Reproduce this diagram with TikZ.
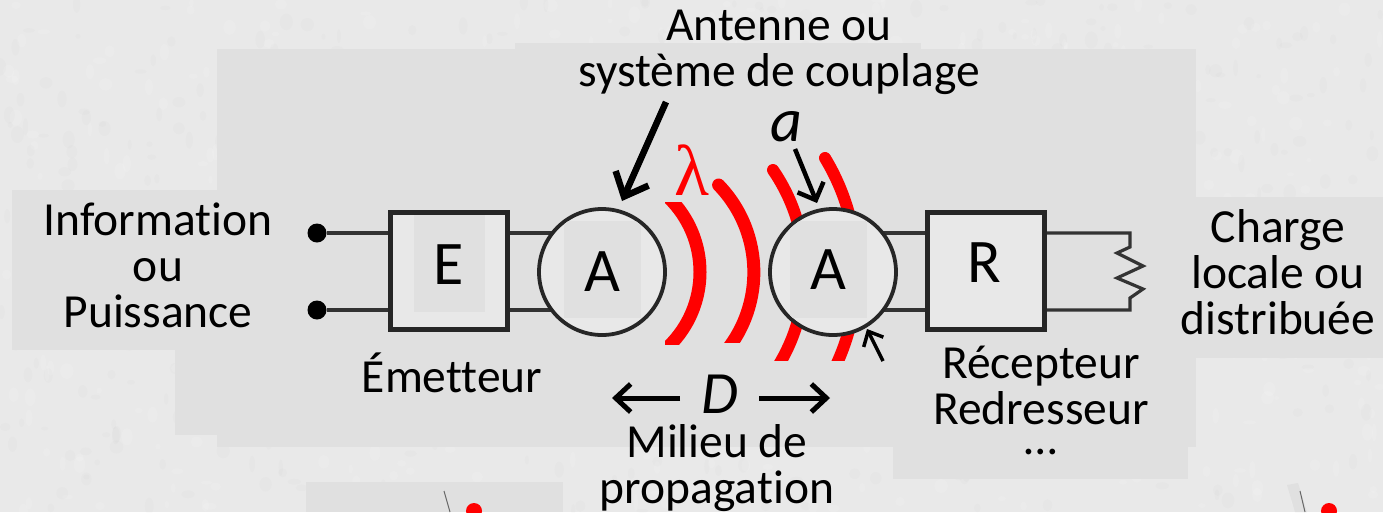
\documentclass[tikz,border=0pt]{standalone}
\usepackage{fontspec}
\setmainfont{Carlito}[Ligatures=NoCommon]
\newfontfamily\lamfont{Liberation Serif}
\usetikzlibrary{arrows.meta}
\definecolor{pagebg}{HTML}{E9E9E9}
\definecolor{patchbg}{HTML}{E0E0E0}
\definecolor{innerbg}{HTML}{E8E8E8}
\definecolor{wirec}{HTML}{333333}
\pgfdeclarelayer{back}
\pgfsetlayers{back,main}
\tikzset{
  patch/.style={fill=patchbg,draw=none},
  lab/.style={font=\fontsize{47.5}{46}\selectfont,align=center,text=black,inner sep=0pt},
  letter/.style={font=\fontsize{62}{62}\selectfont,text=black,inner sep=0pt},
  wire/.style={draw=wirec,line width=3.6pt},
  blockbox/.style={draw=black!85,line width=4.5pt,fill=innerbg,minimum width=117pt,minimum height=117pt,inner sep=0pt},
  antcircle/.style={circle,draw=black!85,line width=3.8pt,fill=innerbg,minimum size=126pt,inner sep=0pt},
  term/.style={circle,fill=black,minimum size=19pt,inner sep=0pt},
  wave/.style={draw=red,line width=13pt},
  bigarrow/.style={draw=black,line width=6.5pt,-{Straight Barb[length=20pt,width=36pt,line width=6.5pt]}},
  smallarrow/.style={draw=black,line width=4.5pt,-{Straight Barb[length=14pt,width=28pt,line width=4.5pt]}},
  tinyarrow/.style={draw=black,line width=3.5pt,-{Straight Barb[length=12pt,width=22pt,line width=3.5pt]}},
  darrow/.style={draw=black,line width=5pt,-{Straight Barb[length=15pt,width=28pt,line width=5pt]}},
}
\begin{document}
\begin{tikzpicture}[x=1pt,y=-1pt]
\useasboundingbox (0,0) rectangle (1383,512);
\begin{pgfonlayer}{back}
\fill[pagebg] (0,0) rectangle (1383,512);
% paper mottling
\pgfmathsetseed{7}
\foreach \i in {1,...,1200}{
  \pgfmathsetmacro{\px}{rnd*1383}
  \pgfmathsetmacro{\py}{rnd*512}
  \pgfmathsetmacro{\pw}{2+rnd*5}
  \pgfmathsetmacro{\ph}{2+rnd*7}
  \pgfmathsetmacro{\pc}{rnd>0.5 ? 1 : 0}
  \ifdim\pc pt>0.5pt
    \fill[white,opacity=.10] (\px,\py) ellipse[x radius=\pw,y radius=\ph];
  \else
    \fill[black,opacity=.012] (\px,\py) ellipse[x radius=\pw,y radius=\ph];
  \fi
}
% background patches
\fill[patch] (217,49) rectangle (1196,447);
\fill[patch] (515,43) rectangle (921,50);
\fill[patch] (12,190) rectangle (300,350);
\fill[patch] (175,300) rectangle (300,435);
\fill[patch] (1150,197) rectangle (1383,358);
\fill[patch] (893,440) rectangle (1188,479);
\fill[patch] (306,482) rectangle (563,512);
\fill[patch] (1287,485) -- (1298,483) -- (1307,512) -- (1295,512) -- cycle;
% red waves
\begin{scope}
\clip (665,202) rectangle (760,344);
\draw[wave] (596,272) circle[radius=104];
\end{scope}
\begin{scope}
\clip (700,170) rectangle (780,342);
\draw[wave,line cap=round] (718.6,185) arc[start angle=-44,end angle=44,radius=125.6];
\end{scope}
\begin{scope}
\clip (760,150) rectangle (900,360);
\draw[wave,line cap=round,line width=12pt] (773,170) arc[start angle=-34.5,end angle=34.5,radius=180];
\draw[wave,line cap=round,line width=12pt] (825,158) arc[start angle=-31.2,end angle=31.2,radius=220];
\end{scope}
\end{pgfonlayer}
% blocks
\node[term] (t1) at (317,233) {};
\node[term] (t2) at (317,310) {};
\node[blockbox] (E) at (449,271) {};
\node[antcircle] (A1) at (602,272) {};
\node[antcircle] (A2) at (833,272) {};
\node[blockbox] (Rb) at (986,271) {};
\coordinate (l1) at (1130,233);
\coordinate (l2) at (1130,310);
\begin{pgfonlayer}{back}
\draw[wire] (t1) -- (E.center |- t1);
\draw[wire] (t2) -- (E.center |- t2);
\draw[wire] (E.center |- t1) -- (A1.center |- t1);
\draw[wire] (E.center |- t2) -- (A1.center |- t2);
\draw[wire] (A2.center |- t1) -- (Rb.center |- t1);
\draw[wire] (A2.center |- t2) -- (Rb.center |- t2);
\draw[wire,line width=3.2pt,line join=miter] (Rb.center |- l1) -- (l1) -- (1130,247) -- (1117,253) -- (1143,266) -- (1117,278) -- (1143,289) -- (1130,298) -- (l2) -- (Rb.center |- l2);
\end{pgfonlayer}
% inner patches
\fill[patch] (414,215) rectangle (485,312);
\begin{scope}
\clip (602,272) circle[radius=61];
\fill[patch] (564,221) rectangle (641,318);
\end{scope}
\begin{scope}
\clip (833,272) circle[radius=61];
\fill[patch] (790,221) rectangle (867,318);
\end{scope}
% letters
\node[letter] (Et) at (449,265) {E};
\node[letter] (At1) at (602,272) {A};
\node[letter] (At2) at (828,270) {A};
\node[letter] (Rt) at (984,263) {R};
% labels
\node[lab] (info) at (158,265) {Information\\ou\\Puissance};
\node[lab] (ant) at (779,52) {Antenne ou\\système de couplage};
\node[lab] (em) at (452,373) {Émetteur};
\node[lab] (rec) at (1041,385) {Récepteur\\Redresseur};
\node[lab] (dots) at (1041,452) {…};
\node[lab] (mil) at (717,468) {Milieu de\\propagation};
\node[lab] (ch) at (1278,272) {Charge\\locale ou\\distribuée};
\node[inner sep=0pt,text=red,font=\lamfont\fontsize{72}{72}\selectfont] (lam) at (692,170) {λ};
\node[lab,font=\itshape\fontsize{62}{62}\selectfont] (aa) at (786,127) {a};
\node[lab,font=\itshape\fontsize{60}{60}\selectfont] (dd) at (720,394) {D};
% arrows
\coordinate (p1) at (666,102); \coordinate (p2) at (622,201);
\draw[bigarrow] (p1) -- (p2);
\coordinate (p3) at (795,149); \coordinate (p4) at (817,203);
\draw[smallarrow] (p3) -- (p4);
\coordinate (p5) at (883,361); \coordinate (p6) at (867,329);
\draw[tinyarrow] (p5) -- (p6);
\coordinate (p7) at (680,398); \coordinate (p8) at (612,398);
\draw[darrow] (p7) -- (p8);
\coordinate (p9) at (759,398); \coordinate (p10) at (830,398);
\draw[darrow] (p9) -- (p10);
% bottom fragments
\coordinate (q1) at (444,491); \coordinate (q2) at (450,512);
\draw[black!60,line width=1pt] (q1) -- (q2);
\coordinate (q3) at (1300,491); \coordinate (q4) at (1305,512);
\draw[black!60,line width=1pt] (q3) -- (q4);
\fill[red] (474,511) circle[radius=8];
\fill[red] (1329,511) circle[radius=8];
\end{tikzpicture}
\end{document}
